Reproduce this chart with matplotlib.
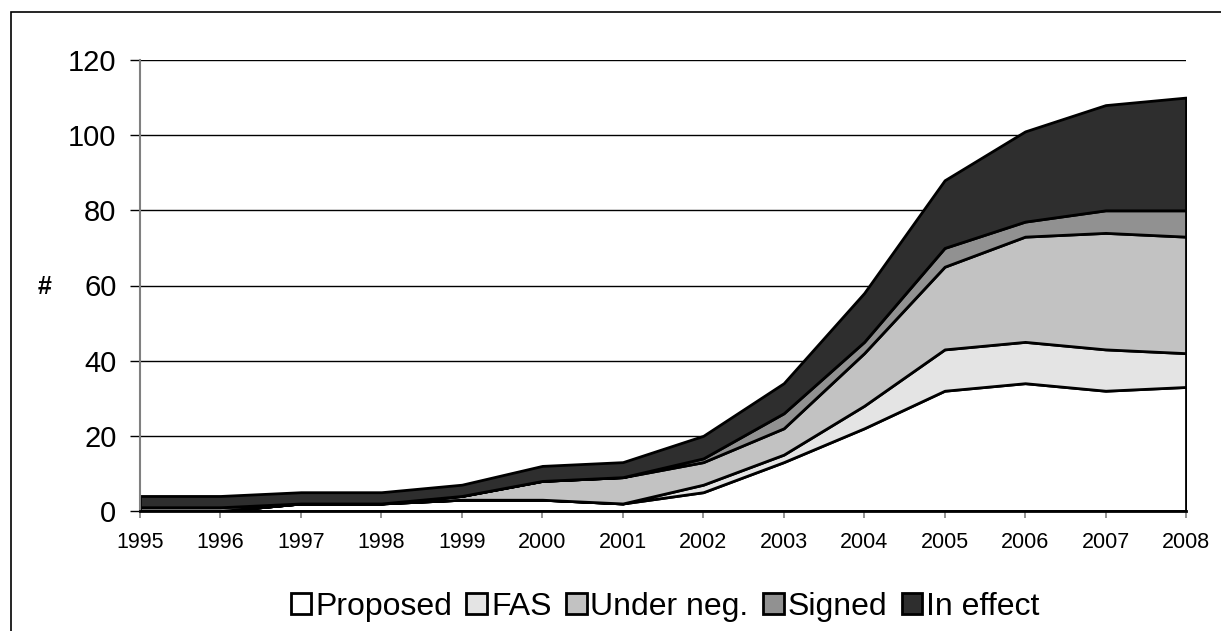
import numpy as np
import matplotlib.pyplot as plt
from matplotlib.patches import Rectangle

plt.rcParams['font.family'] = ['Liberation Sans', 'DejaVu Sans']

# values (stacked layers)
years = [1995, 1996, 1997, 1998, 1999, 2000, 2001, 2002, 2003, 2004, 2005, 2006, 2007, 2008]
proposed = [0, 0, 2, 2, 3, 3, 2, 5, 13, 22, 32, 34, 32, 33]
fas = [0, 0, 0, 0, 0, 0, 0, 2, 2, 6, 11, 11, 11, 9]
under_neg = [0, 0, 0, 0, 1, 5, 7, 6, 7, 14, 22, 28, 31, 31]
signed = [1, 1, 0, 0, 0, 0, 0, 1, 4, 3, 5, 4, 6, 7]
in_effect = [3, 3, 3, 3, 3, 4, 4, 6, 8, 13, 18, 24, 28, 30]

labels = ["Proposed", "FAS", "Under neg.", "Signed", "In effect"]
colors = ["#ffffff", "#e4e4e4", "#c2c2c2", "#919191", "#2e2e2e"]

fig = plt.figure(figsize=(12.21, 6.31), dpi=100)
# outer chart border
fig.patches.append(Rectangle((11/1221, -0.1), 1.2, 1 - 12/631 + 0.1, transform=fig.transFigure,
                             fill=False, edgecolor="black", linewidth=1.2))

ax = fig.add_axes([140/1221, 1 - 511/631, (1186-140)/1221, (511-60)/631])
polys = ax.stackplot(years, proposed, fas, under_neg, signed, in_effect,
                     colors=colors, labels=labels, edgecolor="black", linewidth=2)

ax.set_xlim(1995, 2008)
ax.set_ylim(0, 120)
ax.set_yticks(range(0, 121, 20))
ax.set_xticks(years)
ax.yaxis.grid(True, color="black", linewidth=1)
ax.set_axisbelow(True)

for s in ["top", "right"]:
    ax.spines[s].set_visible(False)
ax.spines["left"].set_color("#808080")
ax.spines["left"].set_linewidth(1.5)
ax.spines["bottom"].set_linewidth(2)

ax.tick_params(axis="y", labelsize=21, length=7, width=1, pad=10)
ax.tick_params(axis="x", labelsize=15.5, length=5, width=1.2, color="#808080", pad=10)

fig.text(45/1221, 1 - 287/631, "#", fontsize=18, fontweight="bold", ha="center", va="center")

fig.legend(loc="center", bbox_to_anchor=(665/1221, 1 - 607/631), ncol=5, frameon=False,
           fontsize=23, handlelength=0.65, handleheight=0.65, handletextpad=0.12,
           columnspacing=0.45, borderpad=0)

fig.savefig("out.png", dpi=100)
